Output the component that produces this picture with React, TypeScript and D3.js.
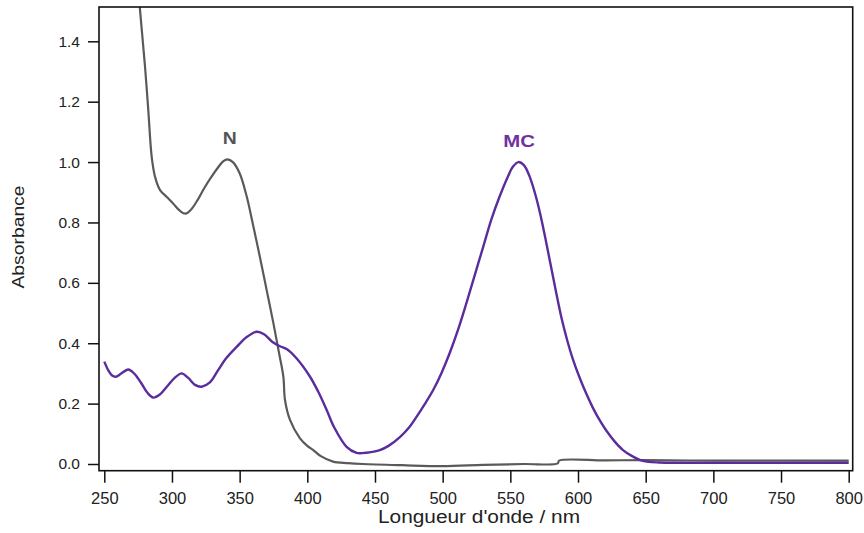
import React, { useEffect, useRef } from "react";
import * as d3 from "d3";

// absorption spectra (wavelength nm, absorbance)
const nWavelengths = [275.5, 276.4, 280.1, 282.5, 285, 287.5, 291.2, 296, 301, 306, 310, 314, 319, 324, 329, 334, 338, 341, 345, 350, 355, 360, 365, 370, 375, 379, 382.3, 383.5, 387.2, 394.6, 400, 404.4, 410, 419, 430, 441, 470, 500, 530, 560, 585, 586, 620, 650, 700, 750, 800];
const nAbsorbance = [1.56, 1.503, 1.315, 1.172, 1.018, 0.951, 0.907, 0.885, 0.862, 0.838, 0.829, 0.842, 0.875, 0.915, 0.95, 0.982, 1.003, 1.009, 1.0, 0.963, 0.89, 0.79, 0.685, 0.575, 0.465, 0.37, 0.289, 0.212, 0.146, 0.085, 0.06, 0.046, 0.026, 0.008, 0.003, 0.0, -0.004, -0.007, -0.003, 0.0, 0.002, 0.011, 0.012, 0.013, 0.011, 0.011, 0.011];

const mcWavelengths = [250, 253, 256, 258.5, 262, 267.7, 272, 277, 282, 286.2, 291, 297, 302, 307.2, 312, 317, 322, 328, 334, 340, 347.8, 355, 362.6, 368, 374, 379.8, 385, 392, 402, 408, 414.3, 420, 429, 436.4, 440, 453, 460, 468.6, 475, 480.8, 487, 493, 499, 505, 511, 517, 523, 530, 536, 542, 548, 552, 556, 560, 564, 568, 572, 576, 580, 584, 588, 592, 596, 601, 606, 611, 616, 621, 627, 633, 640, 646, 652, 660, 670, 800];
const mcAbsorbance = [0.339, 0.31, 0.292, 0.289, 0.298, 0.313, 0.3, 0.27, 0.235, 0.22, 0.23, 0.26, 0.285, 0.3, 0.285, 0.262, 0.256, 0.27, 0.31, 0.35, 0.388, 0.42, 0.438, 0.43, 0.405, 0.39, 0.38, 0.35, 0.289, 0.24, 0.179, 0.12, 0.057, 0.037, 0.036, 0.045, 0.06, 0.09, 0.12, 0.157, 0.2, 0.245, 0.3, 0.365, 0.44, 0.525, 0.615, 0.72, 0.81, 0.885, 0.95, 0.985, 1.0, 0.99, 0.955, 0.9, 0.83, 0.745, 0.655, 0.565, 0.48, 0.41, 0.35, 0.288, 0.234, 0.186, 0.145, 0.11, 0.075, 0.047, 0.026, 0.013, 0.007, 0.005, 0.004, 0.004];

const xTicks = [250, 300, 350, 400, 450, 500, 550, 600, 650, 700, 750, 800];
const yTicks = [0, 0.2, 0.4, 0.6, 0.8, 1.0, 1.2, 1.4];

const FONT = "'Liberation Sans', Arial, Helvetica, sans-serif";

export default function App() {
  const ref = useRef<SVGSVGElement>(null);

  useEffect(() => {
    const svg = d3.select(ref.current);
    svg.selectAll("*").remove();

    const frame = { left: 99, right: 852.7, top: 7, bottom: 470.7 };

    const x = d3.scaleLinear().domain([250, 800]).range([104.3, 848.7]);
    const y = d3.scaleLinear().domain([0, 1.4]).range([464, 41.3]);

    svg.append("defs")
      .append("clipPath")
      .attr("id", "plot-clip")
      .append("rect")
      .attr("x", frame.left)
      .attr("y", frame.top)
      .attr("width", frame.right - frame.left)
      .attr("height", frame.bottom - frame.top);

    // y axis
    const yAxis = svg.append("g")
      .attr("transform", `translate(${frame.left},0)`)
      .call(d3.axisLeft(y).tickValues(yTicks).tickFormat(d3.format(".1f")).tickSize(11).tickPadding(8));
    yAxis.select(".domain").remove();
    yAxis.selectAll("line").attr("stroke", "#111").attr("stroke-width", 1.5);
    yAxis.selectAll("text").attr("font-family", FONT).attr("font-size", 15.5).attr("fill", "#222");

    // x axis
    const xAxis = svg.append("g")
      .attr("transform", `translate(0,${frame.bottom})`)
      .call(d3.axisBottom(x).tickValues(xTicks).tickFormat(d3.format("d")).tickSize(12).tickPadding(10));
    xAxis.select(".domain").remove();
    xAxis.selectAll("line").attr("stroke", "#111").attr("stroke-width", 1.5);
    xAxis.selectAll("text").attr("font-family", FONT).attr("font-size", 16.5).attr("fill", "#222");

    const line = d3.line<[number, number]>()
      .x((d) => x(d[0]))
      .y((d) => y(d[1]))
      .curve(d3.curveCatmullRom.alpha(0.5));

    const nData = nWavelengths.map((w, i) => [w, nAbsorbance[i]] as [number, number]);
    const mcData = mcWavelengths.map((w, i) => [w, mcAbsorbance[i]] as [number, number]);

    const plot = svg.append("g").attr("clip-path", "url(#plot-clip)");
    plot.append("path")
      .attr("d", line(nData))
      .attr("fill", "none")
      .attr("stroke", "#5a5a5a")
      .attr("stroke-width", 2.2);
    plot.append("path")
      .attr("d", line(mcData))
      .attr("fill", "none")
      .attr("stroke", "#5b2c9c")
      .attr("stroke-width", 2.4);

    // frame
    svg.append("rect")
      .attr("x", frame.left)
      .attr("y", frame.top)
      .attr("width", frame.right - frame.left)
      .attr("height", frame.bottom - frame.top)
      .attr("fill", "none")
      .attr("stroke", "#111")
      .attr("stroke-width", 1.6);

    // curve labels
    svg.append("text")
      .attr("x", 229.7).attr("y", 144)
      .attr("text-anchor", "middle")
      .attr("font-family", FONT).attr("font-weight", "bold").attr("font-size", 17)
      .attr("fill", "#555")
      .attr("textLength", 14).attr("lengthAdjust", "spacingAndGlyphs")
      .text("N");
    svg.append("text")
      .attr("x", 519.2).attr("y", 146.7)
      .attr("text-anchor", "middle")
      .attr("font-family", FONT).attr("font-weight", "bold").attr("font-size", 17)
      .attr("fill", "#7030a0")
      .attr("textLength", 31.7).attr("lengthAdjust", "spacingAndGlyphs")
      .text("MC");

    // axis titles
    svg.append("text")
      .attr("x", 479).attr("y", 523.3)
      .attr("text-anchor", "middle")
      .attr("font-family", FONT).attr("font-size", 18)
      .attr("fill", "#222")
      .attr("textLength", 202).attr("lengthAdjust", "spacingAndGlyphs")
      .text("Longueur d'onde / nm");
    svg.append("text")
      .attr("transform", "translate(24,237) rotate(-90)")
      .attr("text-anchor", "middle")
      .attr("font-family", FONT).attr("font-size", 16)
      .attr("fill", "#222")
      .attr("textLength", 103).attr("lengthAdjust", "spacingAndGlyphs")
      .text("Absorbance");
  }, []);

  return (
    <svg
      ref={ref}
      width={864}
      height={533}
      style={{ position: "absolute", left: 0, top: 0, background: "#fff" }}
    />
  );
}
